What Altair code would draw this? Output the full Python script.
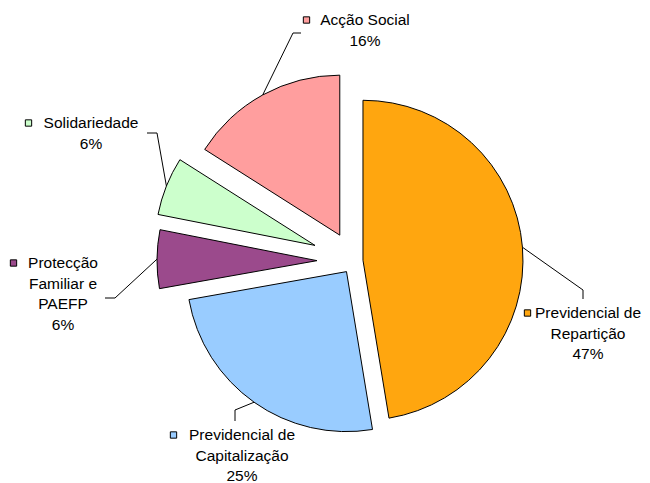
import math
import altair as alt
import pandas as pd

# ---- data ----
categories = ["Previdencial de Repartição", "Previdencial de Capitalização",
              "Protecção Familiar e PAEFP", "Solidariedade", "Acção Social"]
values = [47.4, 24.8, 5.9, 5.9, 16.0]
label_lines = [["Previdencial de", "Repartição"],
               ["Previdencial de", "Capitalização"],
               ["Protecção", "Familiar e", "PAEFP"],
               ["Solidariedade"],
               ["Acção Social"]]

# ---- style / layout ----
colors = ["#FFA60F", "#99CCFF", "#9B4A8C", "#CCFFCC", "#FF9E9E"]
explode = [9, 13, 37, 42, 29.5]          # px, along mid-angle
W, H = 634, 475
CX, CY = 346, 253                         # pie centre (plot px)
R = 160
FS = 15.5
LH = 20.5
# label block: centre x, first line y, key square x (plot px)
label_x = [580, 234, 55, 83, 357]
label_y = [305, 427, 255, 115, 12]
key_x = [519.5, 165.5, 5.5, 20.5, 298.5]
# leader elbow and end points (plot px)
elbow = [(575, 282), (227, 402), (107, 290), (149, 125), (285, 25)]
lend = [(575, 291), (227, 413), (97, 290), (139, 125), (293, 25)]

total = sum(values)
rows, lines, texts, keys = [], [], [], []
cum = 0.0
for i, (c, v) in enumerate(zip(categories, values)):
    s, e = cum, cum + v
    cum = e
    mid = (s + e) / 2 / total * 2 * math.pi
    dx, dy = math.sin(mid), -math.cos(mid)
    ax, ay = CX + explode[i] * dx, CY + explode[i] * dy
    rows.append(dict(cat=c, start=s, end=e, cx=ax, cy=ay))
    # leader line
    pts = [(ax + R * dx, ay + R * dy), elbow[i], lend[i]]
    for k, (px, py) in enumerate(pts):
        lines.append(dict(id=c, ord=k, px=px, py=py))
    # text lines
    tl = label_lines[i] + [f"{round(v)}%"]
    for k, t in enumerate(tl):
        texts.append(dict(cat=c, t=t, px=label_x[i], py=label_y[i] + k * LH))
    keys.append(dict(cat=c, px=key_x[i], py=label_y[i]))

df = pd.DataFrame(rows)
ldf = pd.DataFrame(lines)
tdf = pd.DataFrame(texts)
kdf = pd.DataFrame(keys)

xs = alt.Scale(domain=[0, W], range=[0, W])
ys = alt.Scale(domain=[0, H], range=[0, H])
fill_scale = alt.Scale(domain=categories, range=colors)

arcs = alt.Chart(df).mark_arc(radius=R, stroke="black", strokeWidth=1).encode(
    theta=alt.Theta("start:Q", scale=alt.Scale(domain=[0, total], range=[0, 2 * math.pi]), stack=False),
    theta2="end:Q",
    x=alt.X("cx:Q", scale=xs, axis=None),
    y=alt.Y("cy:Q", scale=ys, axis=None),
    fill=alt.Fill("cat:N", scale=fill_scale, legend=None),
)

leaders = alt.Chart(ldf).mark_line(color="black", strokeWidth=1).encode(
    x=alt.X("px:Q", scale=xs, axis=None),
    y=alt.Y("py:Q", scale=ys, axis=None),
    detail="id:N",
    order="ord:Q",
)

labels = alt.Chart(tdf).mark_text(font="Liberation Sans", fontSize=FS, align="center",
                                  baseline="middle", color="black").encode(
    x=alt.X("px:Q", scale=xs, axis=None),
    y=alt.Y("py:Q", scale=ys, axis=None),
    text="t:N",
)

keysq = alt.Chart(kdf).mark_square(size=40, stroke="black", strokeWidth=1, opacity=1).encode(
    x=alt.X("px:Q", scale=xs, axis=None),
    y=alt.Y("py:Q", scale=ys, axis=None),
    fill=alt.Fill("cat:N", scale=fill_scale, legend=None),
)

chart = alt.layer(arcs, leaders, labels, keysq).properties(
    width=W, height=H, autosize="none", padding=0
).configure_view(stroke=None)

chart.save("out.html", embed_options={"renderer": "svg", "actions": False})
